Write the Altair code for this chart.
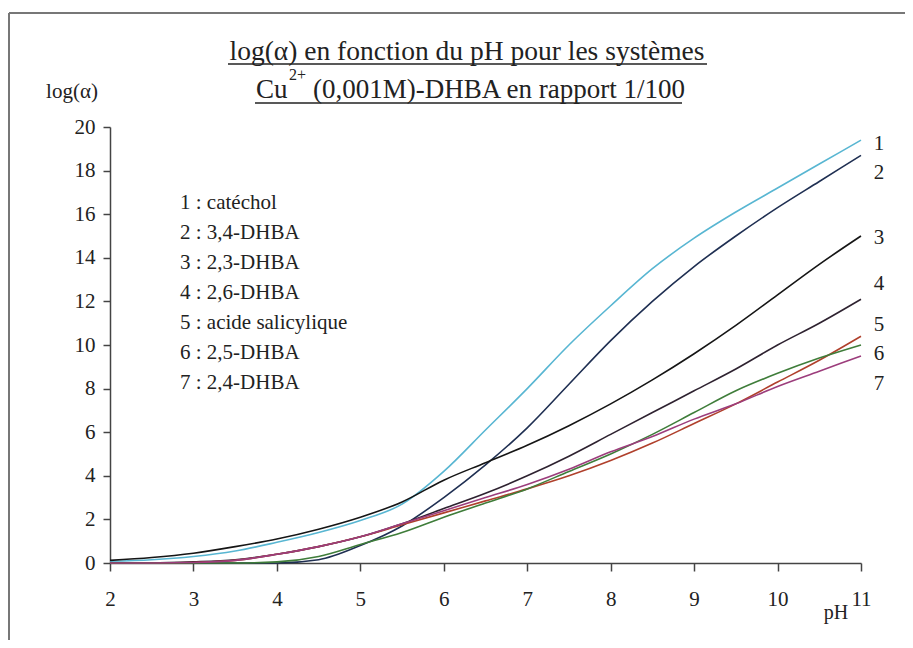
import altair as alt
import pandas as pd

# ---------------- data ----------------
ph = [2, 2.5, 3, 3.5, 4, 4.5, 5, 5.5, 6, 6.5, 7, 7.5, 8, 8.5, 9, 9.5, 10, 10.5, 11]

catechol = [0.08, 0.15, 0.3, 0.55, 0.95, 1.4, 1.95, 2.7, 4.2, 6.1, 8.0, 10.0, 11.8, 13.5, 14.9, 16.1, 17.2, 18.3, 19.4]
dhba_34 = [0, 0, 0, 0, 0, 0.15, 0.8, 1.7, 3.0, 4.5, 6.2, 8.2, 10.2, 12.0, 13.6, 15.0, 16.3, 17.5, 18.7]
dhba_23 = [0.12, 0.25, 0.45, 0.75, 1.1, 1.55, 2.1, 2.8, 3.8, 4.6, 5.4, 6.3, 7.3, 8.4, 9.6, 10.9, 12.3, 13.7, 15.0]
dhba_26 = [0, 0, 0.05, 0.15, 0.4, 0.75, 1.2, 1.8, 2.5, 3.2, 4.0, 4.9, 5.9, 6.9, 7.9, 8.9, 10.0, 11.0, 12.1]
salicylique = [0, 0, 0.02, 0.12, 0.4, 0.75, 1.2, 1.75, 2.3, 2.85, 3.4, 4.0, 4.7, 5.5, 6.4, 7.3, 8.3, 9.3, 10.4]
dhba_25 = [0, 0, 0, 0, 0.05, 0.3, 0.85, 1.4, 2.1, 2.75, 3.4, 4.2, 5.0, 5.9, 6.9, 7.9, 8.7, 9.4, 10.0]
dhba_24 = [0, 0, 0.02, 0.12, 0.4, 0.75, 1.2, 1.8, 2.4, 3.0, 3.6, 4.3, 5.1, 5.8, 6.6, 7.3, 8.1, 8.8, 9.5]

series_values = [catechol, dhba_34, dhba_23, dhba_26, salicylique, dhba_25, dhba_24]
names = ["1 : catéchol", "2 : 3,4-DHBA", "3 : 2,3-DHBA", "4 : 2,6-DHBA",
         "5 : acide salicylique", "6 : 2,5-DHBA", "7 : 2,4-DHBA"]
colors = ["#58b6d2", "#1f2f52", "#151515", "#2e2230", "#b0402c", "#3f7d3a", "#9c3d7c"]

end_labels = ["1", "2", "3", "4", "5", "6", "7"]
end_label_y = [19.2, 17.9, 14.9, 12.8, 10.9, 9.6, 8.2]

x_ticks = [2, 3, 4, 5, 6, 7, 8, 9, 10, 11]
y_ticks = [0, 2, 4, 6, 8, 10, 12, 14, 16, 18, 20]

title_1 = "log(α) en fonction du pH pour les systèmes"
title_2a = "Cu"
title_2sup = "2+"
title_2b = "(0,001M)-DHBA en rapport 1/100"
y_title = "log(α)"
x_title = "pH"

# ---------------- tables ----------------
rows = []
for name, vals in zip(names, series_values):
    for p, v in zip(ph, vals):
        rows.append({"pH": p, "v": v, "series": name})
df = pd.DataFrame(rows)

df_end = pd.DataFrame({"pH": [11] * len(end_labels), "v": end_label_y, "lab": end_labels})

FONT = "Liberation Serif"
W, H = 751, 436

xs = alt.Scale(domain=[2, 11], nice=False)
ys = alt.Scale(domain=[0, 20], nice=False)

lines = alt.Chart(df).mark_line(strokeWidth=1.6, interpolate="monotone").encode(
    x=alt.X("pH:Q", scale=xs,
            axis=alt.Axis(values=x_ticks, title=None, format="d", labelPadding=17, tickSize=8,
                          labelFlush=False)),
    y=alt.Y("v:Q", scale=ys,
            axis=alt.Axis(values=y_ticks, title=None, format="d", labelPadding=8, tickSize=7)),
    color=alt.Color("series:N", scale=alt.Scale(domain=names, range=colors), legend=None),
)

end_text = alt.Chart(df_end).mark_text(
    font=FONT, fontSize=21, align="center", baseline="middle", dx=18, color="#222"
).encode(x=alt.X("pH:Q", scale=xs), y=alt.Y("v:Q", scale=ys), text="lab:N")

legend_text = alt.Chart(pd.DataFrame({"k": [0]})).mark_text(
    font=FONT, fontSize=21, align="left", baseline="top", lineHeight=30, color="#222"
).encode(x=alt.value(70), y=alt.value(65), text=alt.value(names))

def label(txt, x, y, size, align="center", baseline="alphabetic"):
    return alt.Chart(pd.DataFrame({"k": [0]})).mark_text(
        font=FONT, fontSize=size, align=align, baseline=baseline, color="#222"
    ).encode(x=alt.value(x), y=alt.value(y), text=alt.value(txt))

def hline(x1, x2, y, color="#222", width=1.3):
    return alt.Chart(pd.DataFrame({"k": [0]})).mark_rule(color=color, strokeWidth=width).encode(
        x=alt.value(x1), x2=alt.value(x2), y=alt.value(y))

def vline(x, y1, y2, color="#777", width=2):
    return alt.Chart(pd.DataFrame({"k": [0]})).mark_rule(color=color, strokeWidth=width).encode(
        x=alt.value(x), y=alt.value(y1), y2=alt.value(y2))

t1 = label(title_1, 357, -67, 27.5)
u1 = hline(118, 597, -63)
t2a = label(title_2a, 146, -29, 27, align="left")
t2s = label(title_2sup, 179, -47, 16, align="left")
t2b = label(title_2b, 203, -29, 27, align="left")
u2 = hline(145, 572, -24)
yt = label(y_title, -38, -35, 21, baseline="middle")
xt = label(x_title, 726, 486, 20, baseline="middle")

frame_top = hline(-101, 800, -114, color="#777", width=2)
frame_left = vline(-101, -114, 520)

chart = alt.layer(
    frame_top, frame_left, lines, end_text, legend_text, t1, u1, t2a, t2s, t2b, u2, yt, xt
).properties(
    width=W, height=H,
    autosize=alt.AutoSizeParams(type="none"),
    padding={"left": 102, "top": 119, "right": 44, "bottom": 77},
    background="white",
).configure_view(strokeWidth=0).configure_axis(
    grid=False, domainColor="#444", domainWidth=1.5, tickColor="#444", tickWidth=1.5,
    labelFont=FONT, labelFontSize=21, labelColor="#222",
)

chart.save("out.html", embed_options={"renderer": "svg", "actions": False})
